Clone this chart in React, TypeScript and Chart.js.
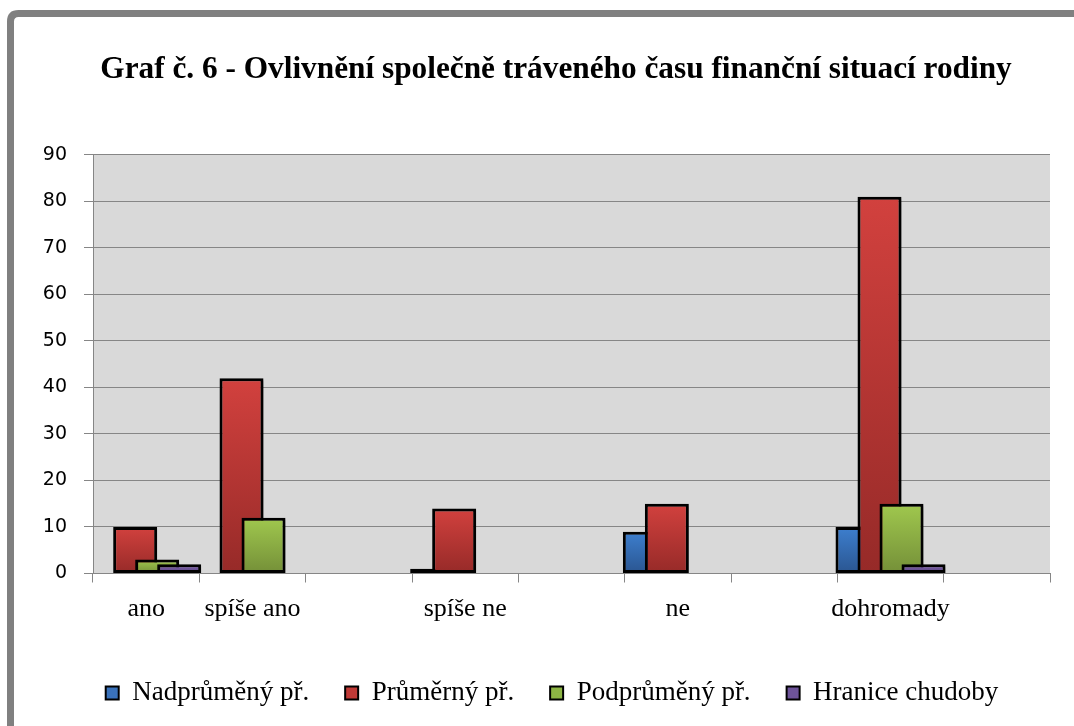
import React, { useEffect, useRef } from "react";
import { Chart, registerables } from "chart.js";

Chart.register(...registerables);

const TITLE = "Graf č. 6 - Ovlivnění společně tráveného času finanční situací rodiny";
const CATEGORIES = ["ano", "spíše ano", "", "spíše ne", "", "ne", "", "dohromady", ""];
const SERIES_NAMES = ["Nadprůměný př.", "Průměrný př.", "Podprůměný př.", "Hranice chudoby"];
const NADPRUMERNY = [0, 0, 0, 1, 0, 9, 0, 10, 0];
const PRUMERNY = [10, 42, 0, 14, 0, 15, 0, 81, 0];
const PODPRUMERNY = [3, 12, 0, 0, 0, 0, 0, 15, 0];
const HRANICE = [2, 0, 0, 0, 0, 0, 0, 2, 0];
const Y_MIN = 0;
const Y_MAX = 90;
const Y_STEP = 10;

const COLORS = [
  { solid: "#3a72bb", light: "#3d7fcf", dark: "#2a5590" },
  { solid: "#c03a37", light: "#d2413e", dark: "#962a28" },
  { solid: "#8db544", light: "#a0c84e", dark: "#748f38" },
  { solid: "#6e549a", light: "#7f62ae", dark: "#5a4480" },
];

const SERIF = "'Liberation Serif', 'Times New Roman', serif";
const SANS = "'DejaVu Sans', Verdana, sans-serif";

function gradientFill(idx: number) {
  return (c: any) => {
    const col = COLORS[idx];
    if (c.type !== "data") return col.solid;
    const chart = c.chart;
    const y = chart.scales && chart.scales.y;
    if (!y || !chart.chartArea) return col.solid;
    const top = y.getPixelForValue(c.raw);
    const bot = y.getPixelForValue(0);
    if (!isFinite(top) || !isFinite(bot) || Math.abs(bot - top) < 1) return col.solid;
    const g = chart.ctx.createLinearGradient(0, top, 0, bot);
    g.addColorStop(0, col.light);
    g.addColorStop(1, col.dark);
    return g;
  };
}

const borderW = (c: any) => (c.type === "data" ? (c.raw ? 3 : 0) : 2);

const framePlugin = {
  id: "frameAndPlot",
  afterLayout(chart: any) {
    if (chart.legend) {
      chart.legend.left -= 4;
      chart.legend.right -= 4;
    }
  },
  beforeDraw(chart: any) {
    const { ctx, width, height, chartArea } = chart;
    ctx.save();
    ctx.fillStyle = "#ffffff";
    ctx.fillRect(0, 0, width, height);
    // Excel-like chart frame (top & left visible)
    ctx.strokeStyle = "#808080";
    ctx.lineWidth = 7;
    const x0 = 10.5, y0 = 13.5, r = 8;
    ctx.beginPath();
    ctx.moveTo(x0, height + 20);
    ctx.lineTo(x0, y0 + r);
    ctx.quadraticCurveTo(x0, y0, x0 + r, y0);
    ctx.lineTo(width + 20, y0);
    ctx.stroke();
    // plot background
    ctx.fillStyle = "#d9d9d9";
    ctx.fillRect(chartArea.left, chartArea.top, chartArea.right - chartArea.left, chartArea.bottom - chartArea.top);
    ctx.restore();
  },
};

const drawOrderPlugin = {
  id: "drawOrder",
  beforeDatasetsDraw(chart: any) {
    const metas = chart.getSortedVisibleDatasetMetas();
    const ctx = chart.ctx;
    for (let i = 0; i < metas.length; i++) {
      ctx.save();
      ctx.shadowColor = "rgba(0,0,0,0.3)";
      ctx.shadowBlur = 3;
      ctx.shadowOffsetX = 2;
      ctx.shadowOffsetY = 2;
      metas[i].controller.draw();
      ctx.restore();
    }
    return false;
  },
};

export default function App() {
  const ref = useRef<HTMLCanvasElement>(null);
  useEffect(() => {
    if (!ref.current) return;
    const series = [NADPRUMERNY, PRUMERNY, PODPRUMERNY, HRANICE];
    const chart = new Chart(ref.current, {
      type: "bar",
      data: {
        labels: CATEGORIES,
        datasets: series.map((d, i) => ({
          label: SERIES_NAMES[i],
          data: d,
          backgroundColor: gradientFill(i),
          borderColor: "#000000",
          borderWidth: borderW,
          borderSkipped: false,
          categoryPercentage: 0.8276,
          barPercentage: 2,
        })),
      },
      options: {
        animation: false,
        responsive: false,
        events: [],
        layout: { padding: { left: 15, right: 0, top: 17, bottom: 9.5 } },
        plugins: {
          tooltip: { enabled: false },
          title: {
            display: true,
            text: TITLE,
            color: "#000",
            font: { family: SERIF, size: 31.3, weight: "bold" },
            padding: { top: 34.2, bottom: 66.2 },
          },
          legend: {
            position: "bottom",
            labels: {
              color: "#000",
              font: { family: SERIF, size: 27 },
              boxWidth: 13,
              boxHeight: 13,
              padding: 36,
              generateLabels: (chart: any) => {
                const items = Chart.defaults.plugins.legend.labels.generateLabels(chart);
                return items.map((it: any, i: number) => ({
                  ...it,
                  fillStyle: COLORS[i].solid,
                  strokeStyle: "#000000",
                  lineWidth: 2,
                }));
              },
            },
          },
        },
        scales: {
          x: {
            type: "category",
            offset: true,
            grid: { display: true, drawOnChartArea: false, offset: true, color: "#868686", tickLength: 9 },
            border: { display: true, color: "#868686", width: 1 },
            ticks: { color: "#000", font: { family: SERIF, size: 26 }, padding: 11, maxRotation: 0, autoSkip: false },
            afterFit: (s: any) => { s.height = 70; },
          },
          y: {
            min: Y_MIN,
            max: Y_MAX,
            ticks: { stepSize: Y_STEP, color: "#000", font: { family: SANS, size: 19 }, padding: 17 },
            grid: { color: "#868686", tickLength: 9 },
            border: { display: true, color: "#868686", width: 1 },
            afterFit: (s: any) => { s.width = 78; },
          },
          y1: {
            position: "right",
            display: true,
            ticks: { display: false },
            grid: { display: false },
            border: { display: false },
            afterFit: (s: any) => { s.width = 47; },
          },
        },
      },
      plugins: [framePlugin, drawOrderPlugin],
    } as any);
    return () => chart.destroy();
  }, []);
  return (
    <div style={{ position: "fixed", left: 0, top: 0, width: 1074, height: 726, overflow: "hidden", background: "#fff" }}>
      <canvas ref={ref} width={1097} height={726} style={{ display: "block" }} />
    </div>
  );
}
